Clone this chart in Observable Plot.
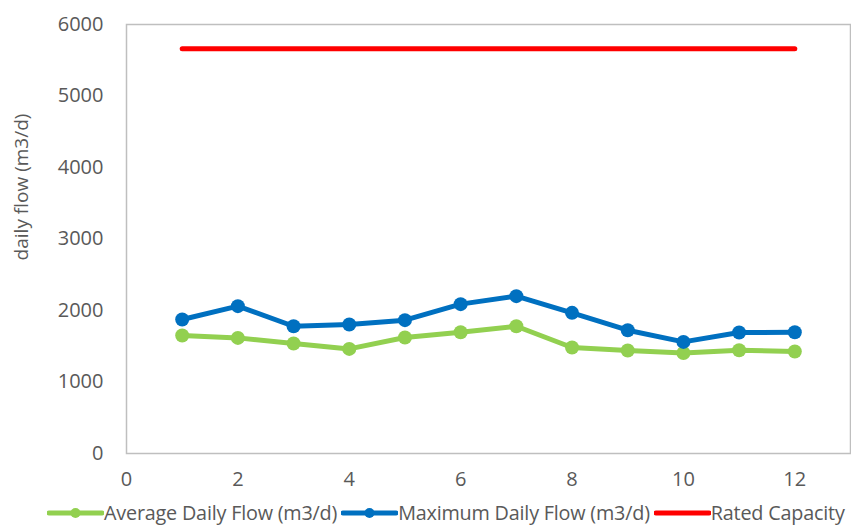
<!DOCTYPE html>
<html>
<head>
<meta charset="utf-8">
<script src="https://cdn.jsdelivr.net/npm/d3@7"></script>
<script src="https://cdn.jsdelivr.net/npm/@observablehq/plot@0.6"></script>
<style>
  html, body { margin: 0; padding: 0; background: #fff; }
  #chart { width: 851px; }
  #chart svg.plot text { font-family: "Open Sans", sans-serif; }
  .legend { display: flex; align-items: center; height: 25px; margin-left: 47px; font-family: "Open Sans", sans-serif; font-size: 19.8px; color: #595959; white-space: nowrap; letter-spacing: -0.2px; }
  .legend .item { display: flex; align-items: center; margin-right: 4px; }
  .legend svg { display: block; }
</style>
</head>
<body>
<div id="chart"></div>
<script>
const months = [1, 2, 3, 4, 5, 6, 7, 8, 9, 10, 11, 12];
const averageDailyFlow = [1650, 1617, 1538, 1463, 1622, 1696, 1780, 1482, 1440, 1406, 1444, 1426];
const maximumDailyFlow = [1874, 2061, 1780, 1804, 1865, 2089, 2201, 1967, 1724, 1561, 1692, 1696];
const ratedCapacity = [5660, 5660, 5660, 5660, 5660, 5660, 5660, 5660, 5660, 5660, 5660, 5660];
const xTicks = [0, 2, 4, 6, 8, 10, 12];
const yTicks = [0, 1000, 2000, 3000, 4000, 5000, 6000];

const seriesNames = ["Average Daily Flow (m3/d)", "Maximum Daily Flow (m3/d)", "Rated Capacity"];
const seriesColors = ["#92d050", "#0070c0", "#ff0000"];

const avg = months.map((m, i) => ({x: m, y: averageDailyFlow[i]}));
const max = months.map((m, i) => ({x: m, y: maximumDailyFlow[i]}));
const rated = months.map((m, i) => ({x: m, y: ratedCapacity[i]}));

const plot = Plot.plot({
  width: 851,
  height: 500,
  marginTop: 24,
  marginBottom: 47,
  marginLeft: 126,
  marginRight: 1,
  style: {fontFamily: "'Open Sans', sans-serif", color: "#595959", background: "#fff"},
  x: {domain: [0, 13]},
  y: {domain: [0, 6000]},
  marks: [
    Plot.frame({stroke: "#bfbfbf", strokeWidth: 1.5}),
    Plot.axisX({ticks: xTicks, tickSize: 0, tickPadding: 18, tickFormat: "d", label: null, fill: "#595959"}),
    Plot.axisY({ticks: yTicks, tickSize: 0, tickPadding: 23, tickFormat: "d", label: null, fill: "#595959"}),
    Plot.text(["daily flow (m3/d)"], {frameAnchor: "left", textAnchor: "middle", dx: -105, dy: -52, rotate: -90, fill: "#595959", fontSize: 19}),
    Plot.line(rated, {x: "x", y: "y", stroke: seriesColors[2], strokeWidth: 5, strokeLinecap: "round"}),
    Plot.line(avg, {x: "x", y: "y", stroke: seriesColors[0], strokeWidth: 5}),
    Plot.dot(avg, {x: "x", y: "y", fill: seriesColors[0], r: 7}),
    Plot.line(max, {x: "x", y: "y", stroke: seriesColors[1], strokeWidth: 5}),
    Plot.dot(max, {x: "x", y: "y", fill: seriesColors[1], r: 7})
  ]
});
plot.querySelectorAll("g[aria-label='x-axis tick label'], g[aria-label='y-axis tick label']").forEach(g => {
  g.setAttribute("font-size", "20");
  g.style.fontSize = "20px";
});
document.getElementById("chart").appendChild(plot);

// Legend
const legend = document.createElement("div");
legend.className = "legend";
seriesNames.forEach((name, i) => {
  const item = document.createElement("div");
  item.className = "item";
  const hasDot = i < 2;
  item.innerHTML = `<svg width="57" height="16"><line x1="2" y1="8" x2="55" y2="8" stroke="${seriesColors[i]}" stroke-width="5" stroke-linecap="round"/>${hasDot ? `<circle cx="28.5" cy="8" r="5" fill="${seriesColors[i]}"/>` : ""}</svg><span>${name}</span>`;
  legend.appendChild(item);
});
document.getElementById("chart").appendChild(legend);
</script>
</body>
</html>
